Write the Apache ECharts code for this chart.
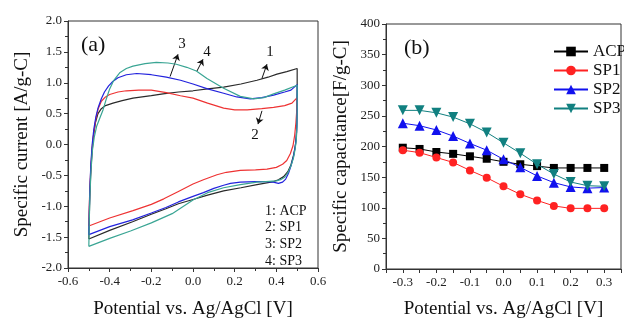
<!DOCTYPE html>
<html>
<head>
<meta charset="utf-8">
<script src="https://cdn.jsdelivr.net/npm/echarts@6/dist/echarts.min.js"></script>
<style>
  html, body { margin: 0; padding: 0; background: #fff; }
  #chart { width: 624px; height: 324px; }
</style>
</head>
<body>
<div id="chart"></div>
<script>
const FONT = "'Liberation Serif', 'Times New Roman', serif";

// (a) cyclic voltammograms: [potential V, specific current A/g-C]
const acpForward = [[-0.5,-1.53],[-0.498,-1.2],[-0.495,-0.8],[-0.49,-0.4],[-0.484,-0.1],[-0.477,0.15],[-0.468,0.36],[-0.456,0.5],[-0.44,0.58],[-0.42,0.63],[-0.384,0.67],[-0.34,0.71],[-0.288,0.75],[-0.2,0.79],[-0.144,0.82],[-0.07,0.85],[0.0,0.87],[0.07,0.9],[0.147,0.93],[0.23,0.98],[0.307,1.04],[0.36,1.09],[0.403,1.14],[0.45,1.18],[0.5,1.23]];
const acpReverse = [[0.5,1.23],[0.5,0.9],[0.499,0.5],[0.497,0.2],[0.492,0.0],[0.483,-0.17],[0.47,-0.33],[0.455,-0.44],[0.435,-0.52],[0.41,-0.57],[0.387,-0.6],[0.307,-0.65],[0.23,-0.7],[0.147,-0.75],[0.07,-0.82],[0.0,-0.89],[-0.07,-0.96],[-0.13,-1.04],[-0.2,-1.13],[-0.29,-1.25],[-0.4,-1.39],[-0.5,-1.53]];

const sp1Forward = [[-0.5,-1.32],[-0.498,-1.0],[-0.495,-0.7],[-0.49,-0.35],[-0.484,-0.05],[-0.476,0.2],[-0.466,0.42],[-0.455,0.58],[-0.44,0.7],[-0.42,0.77],[-0.4,0.81],[-0.36,0.85],[-0.32,0.87],[-0.26,0.88],[-0.2,0.88],[-0.128,0.84],[-0.06,0.79],[0.0,0.75],[0.07,0.67],[0.147,0.59],[0.2,0.56],[0.26,0.56],[0.33,0.58],[0.387,0.6],[0.44,0.63],[0.475,0.67],[0.5,0.76]];
const sp1Reverse = [[0.5,0.76],[0.498,0.55],[0.494,0.35],[0.488,0.15],[0.48,-0.02],[0.467,-0.15],[0.45,-0.26],[0.43,-0.32],[0.4,-0.37],[0.355,-0.4],[0.3,-0.41],[0.227,-0.42],[0.16,-0.45],[0.115,-0.49],[0.05,-0.57],[0.0,-0.64],[-0.07,-0.76],[-0.14,-0.88],[-0.2,-0.97],[-0.288,-1.07],[-0.4,-1.19],[-0.5,-1.32]];

const sp2Forward = [[-0.5,-1.46],[-0.498,-1.1],[-0.495,-0.7],[-0.49,-0.3],[-0.484,0.0],[-0.476,0.25],[-0.466,0.45],[-0.455,0.6],[-0.44,0.74],[-0.425,0.85],[-0.405,0.95],[-0.385,1.02],[-0.36,1.08],[-0.32,1.13],[-0.27,1.15],[-0.2,1.13],[-0.128,1.09],[-0.06,1.04],[0.0,0.98],[0.07,0.9],[0.147,0.83],[0.21,0.77],[0.275,0.74],[0.33,0.76],[0.387,0.8],[0.44,0.85],[0.47,0.88],[0.5,0.97]];
const sp2Reverse = [[0.5,0.97],[0.5,0.6],[0.499,0.35],[0.496,0.12],[0.49,-0.05],[0.482,-0.2],[0.47,-0.35],[0.458,-0.47],[0.445,-0.56],[0.43,-0.61],[0.41,-0.63],[0.385,-0.61],[0.35,-0.6],[0.3,-0.6],[0.227,-0.61],[0.18,-0.63],[0.147,-0.66],[0.1,-0.71],[0.05,-0.78],[0.0,-0.84],[-0.07,-0.93],[-0.13,-1.02],[-0.2,-1.11],[-0.29,-1.22],[-0.4,-1.33],[-0.5,-1.46]];

const sp3Forward = [[-0.5,-1.65],[-0.498,-1.25],[-0.495,-0.85],[-0.49,-0.45],[-0.483,-0.1],[-0.474,0.12],[-0.462,0.3],[-0.448,0.42],[-0.432,0.56],[-0.415,0.75],[-0.4,0.9],[-0.38,1.04],[-0.352,1.16],[-0.32,1.23],[-0.288,1.27],[-0.23,1.31],[-0.176,1.33],[-0.12,1.32],[-0.08,1.3],[-0.03,1.25],[0.016,1.19],[0.067,1.07],[0.147,0.91],[0.227,0.78],[0.291,0.74],[0.34,0.76],[0.387,0.82],[0.44,0.88],[0.5,0.96]];
const sp3Reverse = [[0.5,0.96],[0.5,0.6],[0.499,0.3],[0.496,0.08],[0.49,-0.08],[0.482,-0.22],[0.47,-0.35],[0.455,-0.46],[0.44,-0.53],[0.42,-0.57],[0.4,-0.59],[0.35,-0.6],[0.307,-0.61],[0.227,-0.65],[0.147,-0.7],[0.07,-0.78],[0.0,-0.9],[-0.1,-1.12],[-0.2,-1.27],[-0.3,-1.4],[-0.4,-1.52],[-0.5,-1.65]];

const cvNames = ['1: ACP', '2: SP1', '3: SP2', '4: SP3'];
const cvColors = ['#2a2a2a', '#ee3333', '#2222dd', '#3aa594'];

// curve tags in panel (a): text, label position, arrow start (on curve), arrow end
const cvTags = [
  { text: '1', at: [0.37, 1.49], from: [0.331, 1.07], to: [0.355, 1.30] },
  { text: '2', at: [0.298, 0.15], from: [0.331, 0.545], to: [0.312, 0.33] },
  { text: '3', at: [-0.053, 1.62], from: [-0.11, 1.10], to: [-0.072, 1.46] },
  { text: '4', at: [0.067, 1.49], from: [0.019, 1.19], to: [0.048, 1.38] }
];

// (b) specific capacitance vs potential
const potentials = [-0.3, -0.25, -0.2, -0.15, -0.1, -0.05, 0.0, 0.05, 0.1, 0.15, 0.2, 0.25, 0.3];
const acpCap = [198, 196, 191, 188, 184, 180, 175, 171, 168, 165, 165, 165, 165];
const sp1Cap = [194, 190, 182, 174, 161, 149, 135, 122, 112, 103, 99, 99, 99];
const sp2Cap = [238, 234, 227, 217, 205, 194, 179, 166, 152, 141, 134, 132, 133];
const sp3Cap = [259, 259, 255, 248, 237, 223, 206, 189, 171, 155, 142, 136, 135];

const capNames = ['ACP', 'SP1', 'SP2', 'SP3'];
const capColors = ['#000000', '#ff2222', '#1111ee', '#118080'];
const capSymbols = ['rect', 'circle', 'triangle', 'triangle'];
const capRotate = [0, 0, 0, 180];

const chart = echarts.init(document.getElementById('chart'), null, { renderer: 'canvas' });

const axisBase = {
  axisLine: { show: true, onZero: false, lineStyle: { color: '#333', width: 1 } },
  axisTick: { show: true, inside: false, length: 4, lineStyle: { color: '#333' } },
  minorTick: { show: true, splitNumber: 2, length: 3, lineStyle: { color: '#333' } },
  splitLine: { show: false },
  nameLocation: 'middle',
  nameTextStyle: { fontFamily: FONT, fontSize: 19, color: '#111' }
};
const tickLabel = { fontFamily: FONT, fontSize: 13, color: '#222', margin: 7 };

const cvLoops = [
  acpForward.concat(acpReverse),
  sp1Forward.concat(sp1Reverse),
  sp2Forward.concat(sp2Reverse),
  sp3Forward.concat(sp3Reverse)
];

const cvSeries = cvLoops.map((loop, i) => ({
  name: cvNames[i],
  type: 'line',
  xAxisIndex: 0,
  yAxisIndex: 0,
  data: loop,
  showSymbol: false,
  symbol: 'none',
  lineStyle: { color: cvColors[i], width: 1.2 },
  itemStyle: { color: cvColors[i] },
  z: 3 + i
}));

// arrows and numbers live on a helper series in the (a) grid
cvSeries.push({
  name: 'tags',
  type: 'line',
  xAxisIndex: 0,
  yAxisIndex: 0,
  data: [],
  silent: true,
  markLine: {
    silent: true,
    symbol: ['none', 'arrow'],
    symbolSize: 6,
    animation: false,
    label: { show: false },
    lineStyle: { color: '#111', width: 1, type: 'solid' },
    data: cvTags.map(t => [{ coord: t.from }, { coord: t.to }])
  },
  markPoint: {
    silent: true,
    symbol: 'rect',
    symbolSize: 1,
    animation: false,
    itemStyle: { color: 'rgba(0,0,0,0)' },
    label: {
      show: true, position: 'inside', formatter: p => p.name,
      fontFamily: FONT, fontSize: 15, color: '#111'
    },
    data: cvTags.map(t => ({ name: t.text, coord: t.at }))
  }
});

const capData = [acpCap, sp1Cap, sp2Cap, sp3Cap];
const capSeries = capData.map((vals, i) => ({
  name: capNames[i],
  type: 'line',
  xAxisIndex: 1,
  yAxisIndex: 1,
  data: potentials.map((p, j) => [p, vals[j]]),
  symbol: capSymbols[i],
  symbolRotate: capRotate[i],
  symbolSize: i >= 2 ? 10 : 8,
  lineStyle: { color: capColors[i], width: 1 },
  itemStyle: { color: capColors[i] },
  z: 3 + i
}));

const option = {
  animation: false,
  backgroundColor: '#fff',
  textStyle: { fontFamily: FONT },
  grid: [
    { left: 68, top: 21, width: 250, height: 253, show: true, borderColor: '#333', borderWidth: 1, containLabel: false },
    { left: 386, top: 24, width: 243, height: 252, show: true, borderColor: '#333', borderWidth: 1, containLabel: false }
  ],
  xAxis: [
    Object.assign({}, axisBase, {
      type: 'value', gridIndex: 0, min: -0.6, max: 0.6, interval: 0.2,
      name: 'Potential vs. Ag/AgCl [V]', nameGap: 32,
      axisLabel: Object.assign({}, tickLabel, { formatter: v => (Math.abs(v) < 1e-9 ? 0 : v).toFixed(1) })
    }),
    Object.assign({}, axisBase, {
      type: 'value', gridIndex: 1, min: -0.35, max: 0.35, interval: 0.05,
      minorTick: { show: false },
      name: 'Potential vs. Ag/AgCl [V]', nameGap: 31,
      axisLabel: Object.assign({}, tickLabel, {
        formatter: v => {
          const k = Math.round(v * 20);
          return k % 2 !== 0 ? '' : (k / 20).toFixed(1);
        }
      })
    })
  ],
  yAxis: [
    Object.assign({}, axisBase, {
      type: 'value', gridIndex: 0, min: -2, max: 2, interval: 0.5,
      name: 'Specific current [A/g-C]', nameGap: 36,
      axisLabel: Object.assign({}, tickLabel, { margin: 6, formatter: v => (Math.abs(v) < 1e-9 ? 0 : v).toFixed(1) })
    }),
    Object.assign({}, axisBase, {
      type: 'value', gridIndex: 1, min: 0, max: 400, interval: 50,
      name: 'Specific capacitance[F/g-C]', nameGap: 35,
      axisLabel: Object.assign({}, tickLabel, { margin: 6 })
    })
  ],
  legend: {
    data: capNames,
    orient: 'vertical',
    left: 553,
    top: 43,
    itemWidth: 34,
    itemHeight: 12,
    itemGap: 2,
    padding: 0,
    textStyle: { fontFamily: FONT, fontSize: 17, color: '#111' }
  },
  graphic: [
    { type: 'text', left: 81, top: 34, style: { text: '(a)', font: '22px ' + FONT, fill: '#111' } },
    { type: 'text', left: 404, top: 37, style: { text: '(b)', font: '22px ' + FONT, fill: '#111' } }
  ].concat(cvNames.map((n, i) => ({
    type: 'text', left: 265, top: 204 + i * 16.7,
    style: { text: n, font: '14px ' + FONT, fill: '#111' }
  }))),
  series: cvSeries.concat(capSeries)
};

chart.setOption(option);
window.addEventListener('resize', () => chart.resize());
</script>
</body>
</html>
